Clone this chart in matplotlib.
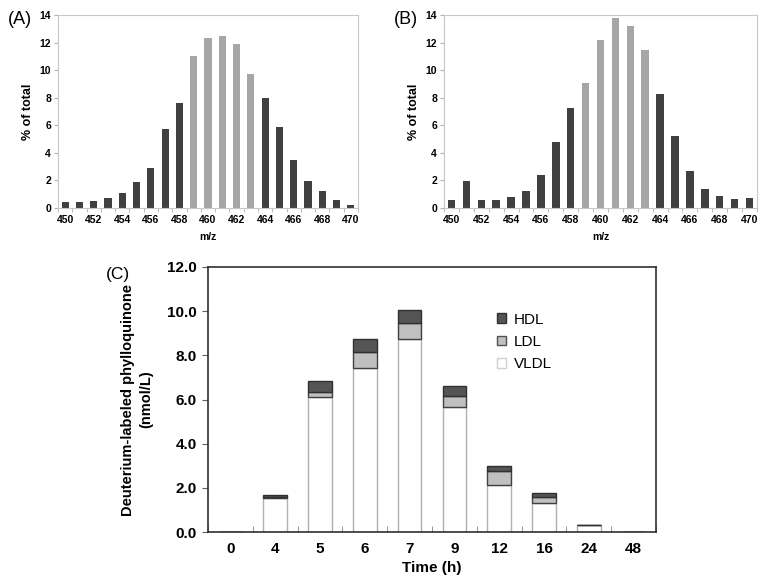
import numpy as np
import matplotlib.pyplot as plt
from matplotlib.patches import Patch

plt.rcParams['font.family'] = ['Liberation Sans', 'DejaVu Sans']

# mass spectra (A) and (B)
mz = list(range(450, 471))
pct_a = [0.4, 0.4, 0.5, 0.7, 1.1, 1.9, 2.9, 5.7, 7.65, 11.0, 12.3,
         12.45, 11.9, 9.7, 8.0, 5.85, 3.5, 1.95, 1.2, 0.55, 0.25]
pct_b = [0.55, 1.95, 0.55, 0.55, 0.8, 1.2, 2.4, 4.8, 7.25, 9.05, 12.2,
         13.8, 13.2, 11.45, 8.3, 5.25, 2.7, 1.4, 0.85, 0.65, 0.7]
light_mz = [459, 460, 461, 462, 463]

# lipoprotein fractions (C)
times = ['0', '4', '5', '6', '7', '9', '12', '16', '24', '48']
vldl = [0.0, 1.55, 6.11, 7.41, 8.74, 5.66, 2.14, 1.30, 0.30, 0.0]
ldl = [0.0, 0.03, 0.24, 0.74, 0.72, 0.50, 0.62, 0.27, 0.0, 0.0]
hdl = [0.0, 0.08, 0.50, 0.57, 0.61, 0.44, 0.21, 0.18, 0.0, 0.0]

W, H = 768, 583
fig = plt.figure(figsize=(W / 100, H / 100), dpi=100)


def px(l, t, r, b):
    return [l / W, (H - b) / H, (r - l) / W, (b - t) / H]


def spectrum(ax, vals):
    x = np.arange(len(mz))
    cols = ['#a6a6a6' if m in light_mz else '#404040' for m in mz]
    ax.bar(x, vals, width=0.5, color=cols)
    ax.set_xlim(-0.5, len(mz) - 0.5)
    ax.set_ylim(0, 14)
    ax.set_yticks(range(0, 15, 2))
    ax.set_xticks(x[::2])
    ax.set_xticklabels([str(m) for m in mz[::2]])
    ax.set_xticks(np.arange(-0.5, len(mz), 1), minor=True)
    ax.tick_params(axis='x', which='major', length=0, pad=5)
    ax.tick_params(axis='x', which='minor', length=3, color='#b0b0b0')
    ax.tick_params(axis='y', length=3, color='#b0b0b0', pad=2)
    for lab in ax.get_xticklabels() + ax.get_yticklabels():
        lab.set_fontsize(7.5)
        lab.set_fontweight('bold')
    for s in ax.spines.values():
        s.set_color('#c8c8c8')
        s.set_linewidth(0.8)
    ax.set_xlabel('m/z', fontsize=7.5, fontweight='bold', labelpad=5)
    ax.set_ylabel('% of total', fontsize=9, fontweight='bold', labelpad=4)


axA = fig.add_axes(px(58, 15, 358, 208))
spectrum(axA, pct_a)
axB = fig.add_axes(px(444, 15, 757, 208))
spectrum(axB, pct_b)

fig.text(8 / W, 1 - 20 / H, '(A)', fontsize=13, va='center')
fig.text(394 / W, 1 - 20 / H, '(B)', fontsize=13, va='center')
fig.text(106 / W, 1 - 275 / H, '(C)', fontsize=12.5, va='center')

axC = fig.add_axes(px(208, 267, 656, 532))
x = np.arange(len(times))
bot2 = np.array(vldl) + np.array(ldl)
axC.bar(x, vldl, width=0.53, color='white', edgecolor='#b0b0b0', linewidth=1)
axC.bar(x, ldl, width=0.53, bottom=vldl, color='#c0c0c0', edgecolor='#404040', linewidth=1)
axC.bar(x, hdl, width=0.53, bottom=bot2, color='#555555', edgecolor='#303030', linewidth=1)
axC.set_xlim(-0.5, len(times) - 0.5)
axC.set_ylim(0, 12)
axC.set_yticks(np.arange(0, 12.1, 2))
axC.set_yticklabels(['%.1f' % v for v in np.arange(0, 12.1, 2)])
axC.set_xticks(x)
axC.set_xticklabels(times)
axC.set_xticks(np.arange(-0.5, len(times), 1), minor=True)
axC.tick_params(axis='x', which='major', length=0, pad=7)
axC.tick_params(axis='x', which='minor', direction='in', length=4, color='#808080')
axC.tick_params(axis='y', length=4, color='#606060', pad=4)
for lab in axC.get_xticklabels() + axC.get_yticklabels():
    lab.set_fontsize(11)
    lab.set_fontweight('bold')
for s in axC.spines.values():
    s.set_color('#303030')
    s.set_linewidth(1.2)
axC.set_xlabel('Time (h)', fontsize=11, fontweight='bold', labelpad=4)
axC.set_ylabel('Deuterium-labeled phylloquinone\n(nmol/L)', fontsize=10.5,
               fontweight='bold', labelpad=10, linespacing=1.35)

handles = [Patch(facecolor='#555555', edgecolor='#303030', label='HDL'),
           Patch(facecolor='#c0c0c0', edgecolor='#505050', label='LDL'),
           Patch(facecolor='white', edgecolor='#d0d0d0', label='VLDL')]
leg = axC.legend(handles=handles, loc='upper left', bbox_to_anchor=(0.615, 0.88),
                 frameon=False, fontsize=11, handlelength=0.6, handleheight=0.6,
                 handletextpad=0.5, labelspacing=0.55)

fig.savefig('out.png', dpi=100)
